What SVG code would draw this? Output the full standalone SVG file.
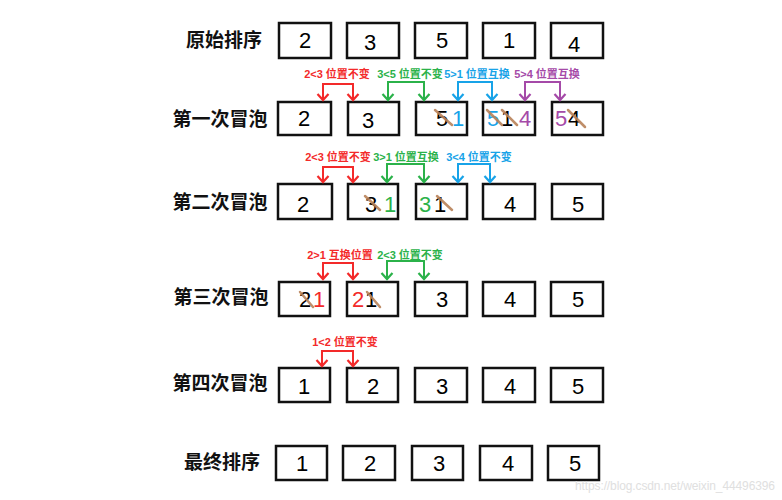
<svg xmlns="http://www.w3.org/2000/svg" width="782" height="500" viewBox="0 0 782 500">
<style>
.box{fill:#fff;stroke:#111;stroke-width:2.5}
.num{font-family:"Liberation Sans",Arial,sans-serif;font-size:22px;text-anchor:middle;fill:#000}
.row{font-family:"Noto Sans CJK SC","Noto Sans",sans-serif;font-size:19px;font-weight:700;text-anchor:middle;fill:#111}
.lbl{font-family:"Liberation Sans","Noto Sans CJK SC",sans-serif;font-size:11px;font-weight:700;text-anchor:middle}
.x{stroke:#b98259;stroke-width:2.5;stroke-linecap:round;opacity:.9}
.con{fill:none;stroke-width:2}
.r{fill:#f32a2a}.g{fill:#2bb24a}.b{fill:#18a3e8}.p{fill:#a54aa8}
.cr{stroke:#f32a2a;marker-start:url(#mr);marker-end:url(#mr)}
.cg{stroke:#2bb24a;marker-start:url(#mg);marker-end:url(#mg)}
.cb{stroke:#18a3e8;marker-start:url(#mb);marker-end:url(#mb)}
.cp{stroke:#a54aa8;marker-start:url(#mp);marker-end:url(#mp)}
</style>
<defs>
<marker id="mr" markerUnits="userSpaceOnUse" viewBox="-8 -7 10 14" refX="0" refY="0" markerWidth="10" markerHeight="14" orient="auto-start-reverse" overflow="visible"><path d="M-6,-5.5 L0,0 L-6,5.5" fill="none" stroke="#f32a2a" stroke-width="2.2"/></marker>
<marker id="mg" markerUnits="userSpaceOnUse" viewBox="-8 -7 10 14" refX="0" refY="0" markerWidth="10" markerHeight="14" orient="auto-start-reverse" overflow="visible"><path d="M-6,-5.5 L0,0 L-6,5.5" fill="none" stroke="#2bb24a" stroke-width="2.2"/></marker>
<marker id="mb" markerUnits="userSpaceOnUse" viewBox="-8 -7 10 14" refX="0" refY="0" markerWidth="10" markerHeight="14" orient="auto-start-reverse" overflow="visible"><path d="M-6,-5.5 L0,0 L-6,5.5" fill="none" stroke="#18a3e8" stroke-width="2.2"/></marker>
<marker id="mp" markerUnits="userSpaceOnUse" viewBox="-8 -7 10 14" refX="0" refY="0" markerWidth="10" markerHeight="14" orient="auto-start-reverse" overflow="visible"><path d="M-6,-5.5 L0,0 L-6,5.5" fill="none" stroke="#a54aa8" stroke-width="2.2"/></marker>
</defs>
<rect width="782" height="500" fill="#fff"/>

<!-- row labels -->
<g id="row-labels">
<text class="row" x="224" y="47">原始排序</text>
<text class="row" x="220" y="126">第一次冒泡</text>
<text class="row" x="220" y="209">第二次冒泡</text>
<text class="row" x="221" y="304">第三次冒泡</text>
<text class="row" x="220" y="390">第四次冒泡</text>
<text class="row" x="222" y="469">最终排序</text>
</g>

<!-- Row 1: original -->
<g id="r1b1"><rect class="box" x="279" y="23" width="52" height="35"/><text class="num" x="305" y="48">2</text></g>
<g id="r1b2"><rect class="box" x="347" y="23" width="52" height="35"/><text class="num" x="370" y="50">3</text></g>
<g id="r1b3"><rect class="box" x="415" y="23" width="52" height="35"/><text class="num" x="442" y="48">5</text></g>
<g id="r1b4"><rect class="box" x="483" y="23" width="52" height="35"/><text class="num" x="509" y="48">1</text></g>
<g id="r1b5"><rect class="box" x="551" y="23" width="52" height="35"/><text class="num" x="574" y="52">4</text></g>

<!-- Row 2: first pass -->
<g id="r2b1"><rect class="box" x="278" y="102" width="53" height="33"/><text class="num" x="304" y="126">2</text></g>
<g id="r2b2"><rect class="box" x="348" y="102" width="51" height="33"/><text class="num" x="368" y="128">3</text></g>
<g id="r2b3"><rect class="box" x="416" y="102" width="51" height="33"/><text class="num" x="442" y="126">5</text><text class="num b" x="458" y="126">1</text><line class="x" x1="435" y1="110" x2="452" y2="125"/></g>
<g id="r2b4"><rect class="box" x="483" y="102" width="52" height="33"/><text class="num b" x="493" y="126">5</text><text class="num" x="507" y="126">1</text><text class="num p" x="525" y="126">4</text><line class="x" x1="487" y1="110" x2="502" y2="125"/><line class="x" x1="502" y1="110" x2="517" y2="125"/></g>
<g id="r2b5"><rect class="box" x="552" y="102" width="51" height="33"/><text class="num p" x="561" y="126">5</text><text class="num" x="574" y="126">4</text><line class="x" x1="568" y1="110" x2="585" y2="127"/></g>

<!-- Row 3: second pass -->
<g id="r3b1"><rect class="box" x="278" y="184" width="54" height="35"/><text class="num" x="303" y="212">2</text></g>
<g id="r3b2"><rect class="box" x="348" y="184" width="50" height="35"/><text class="num" x="371" y="212">3</text><text class="num g" x="390" y="212">1</text><line class="x" x1="365" y1="196" x2="380" y2="210"/></g>
<g id="r3b3"><rect class="box" x="416" y="184" width="51" height="35"/><text class="num g" x="425" y="212">3</text><text class="num" x="440" y="212">1</text><line class="x" x1="437" y1="196" x2="452" y2="210"/></g>
<g id="r3b4"><rect class="box" x="483" y="184" width="52" height="35"/><text class="num" x="510" y="212">4</text></g>
<g id="r3b5"><rect class="box" x="552" y="184" width="51" height="35"/><text class="num" x="578" y="212">5</text></g>

<!-- Row 4: third pass -->
<g id="r4b1"><rect class="box" x="279" y="282" width="51" height="34"/><text class="num" x="305" y="307">2</text><text class="num r" x="319" y="307">1</text><line class="x" x1="300" y1="292" x2="313" y2="307"/></g>
<g id="r4b2"><rect class="box" x="347" y="282" width="51" height="34"/><text class="num r" x="358" y="307">2</text><text class="num" x="371" y="307">1</text><line class="x" x1="367" y1="292" x2="380" y2="307"/></g>
<g id="r4b3"><rect class="box" x="415" y="282" width="52" height="34"/><text class="num" x="442" y="307">3</text></g>
<g id="r4b4"><rect class="box" x="483" y="282" width="52" height="34"/><text class="num" x="510" y="307">4</text></g>
<g id="r4b5"><rect class="box" x="551" y="282" width="52" height="34"/><text class="num" x="578" y="307">5</text></g>

<!-- Row 5: fourth pass -->
<g id="r5b1"><rect class="box" x="279" y="368" width="51" height="34"/><text class="num" x="304" y="394">1</text></g>
<g id="r5b2"><rect class="box" x="347" y="368" width="51" height="34"/><text class="num" x="373" y="394">2</text></g>
<g id="r5b3"><rect class="box" x="415" y="368" width="52" height="34"/><text class="num" x="442" y="394">3</text></g>
<g id="r5b4"><rect class="box" x="483" y="368" width="52" height="34"/><text class="num" x="510" y="394">4</text></g>
<g id="r5b5"><rect class="box" x="551" y="368" width="52" height="34"/><text class="num" x="578" y="394">5</text></g>

<!-- Row 6: final -->
<g id="r6b1"><rect class="box" x="276" y="446" width="51" height="34"/><text class="num" x="302" y="471">1</text></g>
<g id="r6b2"><rect class="box" x="343" y="446" width="52" height="34"/><text class="num" x="370" y="471">2</text></g>
<g id="r6b3"><rect class="box" x="412" y="446" width="51" height="34"/><text class="num" x="439" y="471">3</text></g>
<g id="r6b4"><rect class="box" x="480" y="446" width="52" height="34"/><text class="num" x="508" y="471">4</text></g>
<g id="r6b5"><rect class="box" x="548" y="446" width="51" height="34"/><text class="num" x="575" y="471">5</text></g>

<!-- connectors -->
<g id="connectors">
<path class="con cr" d="M323,100 V84 H353 V100"/>
<path class="con cg" d="M388,100 V82 H424 V100"/>
<path class="con cb" d="M458,100 V82 H492 V100"/>
<path class="con cp" d="M525,100 V82 H560 V100"/>

<path class="con cr" d="M323,182 V167 H353 V182"/>
<path class="con cg" d="M387,182 V164 H424 V182"/>
<path class="con cb" d="M458,182 V164 H490 V182"/>

<path class="con cr" d="M323,279 V263 H353 V279"/>
<path class="con cg" d="M387,279 V261 H424 V279"/>

<path class="con cr" d="M322,366 V351 H353 V366"/>
</g>

<!-- connector labels -->
<g id="connector-labels">
<text class="lbl r" x="337" y="78">2&lt;3 位置不变</text>
<text class="lbl g" x="410" y="78">3&lt;5 位置不变</text>
<text class="lbl b" x="477" y="78">5&gt;1 位置互换</text>
<text class="lbl p" x="547" y="78">5&gt;4 位置互换</text>

<text class="lbl r" x="338" y="161">2&lt;3 位置不变</text>
<text class="lbl g" x="406" y="161">3&gt;1 位置互换</text>
<text class="lbl b" x="479" y="161">3&lt;4 位置不变</text>

<text class="lbl r" x="340" y="259">2&gt;1 互换位置</text>
<text class="lbl g" x="410" y="259">2&lt;3 位置不变</text>

<text class="lbl r" x="345" y="346">1&lt;2 位置不变</text>
</g>

<text x="575" y="490" font-family="Liberation Sans,Arial,sans-serif" font-size="12" fill="#e0e0e0" textLength="200">https://blog.csdn.net/weixin_44496396</text>
</svg>
